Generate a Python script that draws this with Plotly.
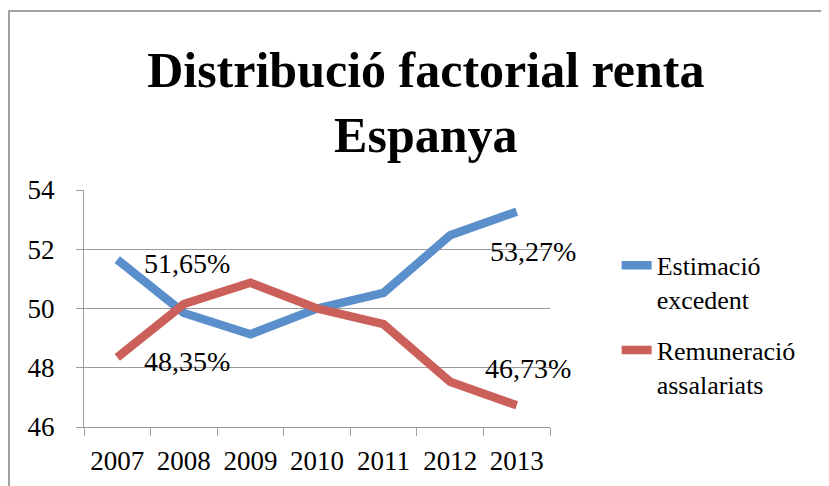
import plotly.graph_objects as go

years = [2007, 2008, 2009, 2010, 2011, 2012, 2013]
excedent = [51.65, 49.85, 49.13, 50.00, 50.53, 52.47, 53.27]
remuneracio = [48.35, 50.15, 50.87, 50.00, 49.47, 47.53, 46.73]
series_names = ["Estimació<br>excedent", "Remuneració<br>assalariats"]
title_text = "Distribució factorial renta<br>Espanya"

BLUE = "#5A8FCB"
RED = "#CB5F59"
GRID = "#9C9C9C"
FONT = "Liberation Serif"

fig = go.Figure()
fig.add_trace(go.Scatter(x=years, y=excedent, mode="lines", name=series_names[0],
                         line=dict(color=BLUE, width=8.5), legendgroup="a"))
fig.add_trace(go.Scatter(x=years, y=remuneracio, mode="lines", name=series_names[1],
                         line=dict(color=RED, width=8.5), legendgroup="b"))

def fmt(v):
    return f"{v:.2f}".replace(".", ",") + "%"

# data labels: first and last point of each series
label_specs = [
    (excedent, 0, "left", 25, -4),
    (remuneracio, 0, "left", 25, -4),
    (excedent, -1, "center", 16, -40),
    (remuneracio, -1, "center", 11, 37),
]
for series, idx, xa, xs, ys in label_specs:
    fig.add_annotation(x=years[idx], y=series[idx], text=fmt(series[idx]),
                       showarrow=False, xanchor=xa, yanchor="middle",
                       xshift=xs, yshift=ys,
                       font=dict(family=FONT, size=28, color="#000000"))

fig.add_shape(type="rect", xref="paper", yref="paper",
              x0=-0.161, x1=1.7, y0=-0.35, y1=1.755,
              line=dict(color="#A0A0A0", width=2), fillcolor="rgba(0,0,0,0)")

boundaries = [y - 0.5 for y in years] + [years[-1] + 0.5]

fig.update_layout(
    width=829, height=486,
    margin=dict(l=76, r=287, t=182, b=67),
    paper_bgcolor="white", plot_bgcolor="white",
    title=dict(text=title_text, x=0.504, xref="container", xanchor="center",
               y=0.838, yref="container", yanchor="middle",
               font=dict(family=FONT, size=50, color="#000000", weight="bold")),
    font=dict(family=FONT, size=27, color="#000000"),
    showlegend=True,
    legend=dict(x=1.143, xanchor="left", y=0.781, yanchor="top",
                font=dict(family=FONT, size=26, color="#000000"),
                valign="top", tracegroupgap=14, bgcolor="rgba(0,0,0,0)"),
    xaxis=dict(range=[boundaries[0], boundaries[-1]], tickmode="array",
               tickvals=years, ticktext=[str(y) for y in years],
               showgrid=False, showline=True, linecolor=GRID, zeroline=False,
               linewidth=1, ticks="", ticklabelstandoff=10,
               tickfont=dict(family=FONT, size=27),
               minor=dict(tickmode="array", tickvals=boundaries, ticks="outside",
                          ticklen=8, tickcolor=GRID, showgrid=False)),
    yaxis=dict(range=[46, 54], dtick=2, showgrid=True, gridcolor=GRID, gridwidth=1,
               showline=True, linecolor=GRID, linewidth=1, ticks="outside",
               ticklen=7, tickcolor=GRID, zeroline=False,
               ticklabelstandoff=16, tickfont=dict(family=FONT, size=27)),
)

fig.write_html("out.html")
